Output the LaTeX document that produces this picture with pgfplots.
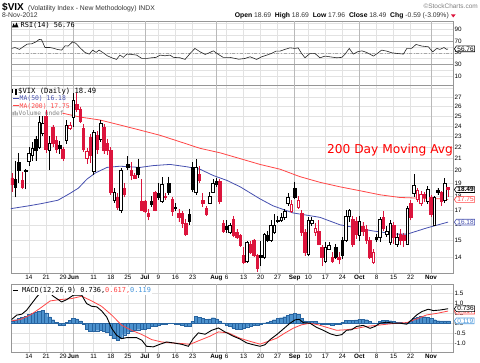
\documentclass[border=0pt]{standalone}
\usepackage{fontspec}
\setmainfont{Liberation Sans}
\newfontfamily\mono{DejaVu Sans Mono}
\newfontfamily\dejavu{DejaVu Sans}
\usepackage{pgfplots}
\pgfplotsset{compat=1.18}
\usepgfplotslibrary{statistics}
\usetikzlibrary{shapes.symbols}
\definecolor{cred}{RGB}{220,20,60}
\definecolor{mablue}{RGB}{70,80,175}
\definecolor{mared}{RGB}{255,70,70}
\definecolor{histf}{RGB}{75,145,205}
\definecolor{histd}{RGB}{40,100,160}
\definecolor{gridc}{RGB}{226,226,226}
\definecolor{gridm}{RGB}{185,185,185}
\definecolor{framec}{RGB}{150,150,150}
\definecolor{lblue}{RGB}{70,150,220}
\pgfplotsset{
  panel/.style={scale only axis, width=442bp, xmin=-5.28, xmax=124.45,
    axis line style={draw=framec}, major tick length=0pt, tick style={draw=none},
    xtick={0,5,10,19,24,29,38,43,48,58,63,68,73,82,87,92,102,107,112},
    extra x ticks={13,34,55,78,97,118},
    grid=major, major grid style={gridc, line width=0.5bp},
    extra x tick style={major grid style={gridm, line width=0.6bp}},
    yticklabel pos=right,
    tick label style={font=\fontsize{6.3bp}{7bp}\selectfont, inner sep=1.5bp},
    clip=true},
  xlab/.style={xticklabels={14,21,29,11,18,25,9,16,23,6,13,20,27,10,17,24,8,15,22},
    extra x tick labels={\textbf{Jun},\textbf{Jul},\textbf{Aug},\textbf{Sep},\textbf{Oct},\textbf{Nov}}},
  cHB/.style={draw=black, fill=white, line width=0.6bp},
  cFB/.style={draw=black, fill=black, line width=0.6bp},
  cHR/.style={draw=cred, fill=white, line width=0.6bp},
  cFR/.style={draw=cred, fill=cred, line width=0.6bp},
}
\newcommand{\cd}[6]{\addplot[#1, boxplot prepared={draw position=#2, lower whisker=#3, lower quartile=#4, median=#4, upper quartile=#5, upper whisker=#6}] coordinates {};}
\begin{document}
\begin{tikzpicture}
\path[use as bounding box] (0,0) rectangle (480bp,363bp);
% ---------------- RSI ----------------
\begin{axis}[panel, at={(11bp,278bp)}, anchor=south west, height=63.5bp,
  ymin=-5, ymax=103.5, ytick={10,20,40,50,60,80,90,100}, yticklabels={10,,,50,,,90,},
  extra y ticks={30,70}, extra y tick labels={30,70},
  extra y tick style={major grid style={gray!75, line width=0.7bp}},
  xticklabels={}, extra x tick labels={}]
\addplot[gray!70, dash dot, line width=0.6bp] coordinates {(-5.28,50) (124.45,50)};
\addplot[black!85, line width=0.6bp] coordinates {(-5.1,57.5) (-4.1,59) (-2.8,55.8) (-1.7,60.3) (-0.5,64.9) (0.8,65.4) (2.1,68.8) (3.0,72.9) (3.7,72.3) (4.7,59) (6.2,59) (7.4,57.5) (8.3,55.8) (9.6,54.6) (10.6,62) (11.5,61.5) (12.8,68.8) (13.8,66) (15,58.5) (16.4,50.7) (17.7,47.8) (18.7,54.6) (19.7,50.7) (20.6,54.6) (21.8,50) (23,44.9) (24.3,41.5) (25.7,38.7) (26.7,46.1) (27.7,42.2) (28.7,47.8) (30.1,47.2) (31.6,46.1) (33.1,40.4) (34.5,40.4) (36,41.5) (37.3,42.2) (38.5,46.1) (39.9,44.9) (41.4,46.1) (42.4,42.2) (44.3,41.5) (45.8,38.7) (47.3,49) (48.7,57.5) (50.2,51.7) (51.7,47.2) (52.9,50) (54.1,53.4) (55.6,47.2) (57,42.2) (59,42.2) (61.6,39) (63.4,40.4) (64.9,43.2) (66.8,38.7) (68.3,43.2) (69.8,46.1) (71.2,49) (72.5,52.9) (73.7,52.9) (75.1,55.8) (76.6,58.5) (78.1,57.5) (79,58.5) (80,49) (81,41.5) (82.5,49) (83.9,49) (85.4,41.5) (86.9,44.4) (88.3,43.2) (90.3,41.5) (91.8,42.2) (92.7,47.2) (94,57.5) (95.2,47.8) (96.4,51.7) (97.7,53.4) (99.1,50.7) (101.1,44.4) (102.5,50) (103.5,54.6) (105,52.9) (106.5,50) (107.9,49) (109.9,47.8) (110.9,57.5) (112.3,57.5) (113.6,64.3) (115.3,61.5) (117.2,60.3) (118.5,51.7) (119.7,57.5) (120.6,55.8) (121.8,59) (122.6,55.8) (123,56.76)};
\coordinate (rsiv) at (axis cs:124.45,56.76);
\end{axis}
% ---------------- MAIN ----------------
\begin{axis}[panel, xlab, at={(11bp,90bp)}, anchor=south west, height=188bp,
  ymode=log, ymin=13.13, ymax=28.4,
  ytick={14,15,16,17,18,19,20,21,22,23,24,25,26,27,28},
  yticklabels={14,15,16,17,18,19,20,21,22,23,24,25,26,27,},
  boxplot/box extend=0.75, boxplot/whisker extend=0, boxplot/draw direction=y]
\addplot[mablue, line width=0.8bp] coordinates {(-5.3,17.1) (0,17.3) (3.5,17.45) (8.5,17.7) (12,18.2) (14.5,18.6) (17,19.3) (19.5,19.8) (22.9,20.25) (26.7,20.35) (32.6,20.25) (36.4,20.4) (41.4,20.5) (46.4,20.3) (50.2,20.1) (54,19.6) (58.1,19.2) (62,18.7) (67.8,17.8) (71.6,17.3) (77.5,16.8) (85.4,16.5) (91.3,16.0) (101,15.6) (108,15.4) (111,15.4) (116.8,15.8) (123,16.18)};
\addplot[mared, line width=0.8bp] coordinates {(9.8,25.3) (15,24.9) (20.8,24.6) (26.7,24.1) (32.6,23.6) (38.5,23.1) (44.3,22.5) (50.2,21.9) (56.1,21.5) (61.9,21.0) (67.8,20.5) (73.7,20.1) (79.5,19.5) (85.4,19.05) (91.3,18.7) (97.2,18.4) (103,18.1) (108.9,17.9) (114.8,17.85) (120.6,17.8) (123,17.75)};
\cd{cFR}{-5}{18.3}{18.9}{19.4}{19.8}
\cd{cFB}{-4}{17.9}{18.7}{19.3}{20.8}
\cd{cFB}{-3}{19.0}{20.0}{20.7}{21.5}
\cd{cFR}{-2}{18.5}{18.7}{19.2}{19.9}
\cd{cFB}{-1}{18.5}{19.9}{20.0}{20.1}
\cd{cHB}{0}{20.4}{20.8}{21.5}{22.0}
\cd{cHB}{1}{20.8}{21.3}{21.9}{22.5}
\cd{cFB}{2}{20.8}{21.7}{22.7}{23.0}
\cd{cHB}{3}{21.8}{22.0}{24.4}{25.0}
\cd{cHB}{4}{23.0}{23.3}{24.3}{25.0}
\cd{cFR}{5}{21.5}{21.8}{25.0}{25.6}
\cd{cHB}{6}{20.0}{21.7}{22.4}{23.0}
\cd{cFR}{7}{22.0}{22.4}{23.9}{24.1}
\cd{cFR}{8}{21.5}{21.8}{22.6}{23.0}
\cd{cFB}{9}{21.4}{21.9}{22.2}{22.6}
\cd{cFR}{10}{20.8}{21.0}{21.8}{22.0}
\cd{cHB}{11}{22.3}{22.6}{24.1}{24.6}
\cd{cHR}{12}{23.6}{23.8}{24.1}{24.4}
\cd{cHB}{13}{23.9}{24.9}{26.7}{27.5}
\cd{cFR}{14}{25.4}{25.7}{26.2}{27.5}
\cd{cFR}{15}{24.3}{24.5}{25.7}{26.0}
\cd{cFR}{16}{21.6}{21.8}{23.8}{24.2}
\cd{cHR}{17}{20.5}{21.0}{21.6}{21.9}
\cd{cFR}{18}{20.6}{21.3}{22.9}{23.2}
\cd{cHB}{19}{19.6}{19.9}{23.4}{23.6}
\cd{cFR}{20}{21.4}{21.8}{23.1}{23.5}
\cd{cHB}{21}{22.5}{22.7}{24.3}{24.6}
\cd{cFR}{22}{21.4}{21.7}{23.9}{24.2}
\cd{cFR}{23}{21.3}{21.7}{22.4}{22.8}
\cd{cFR}{24}{18.1}{18.3}{21.7}{22.0}
\cd{cHB}{25}{17.5}{17.7}{18.3}{18.6}
\cd{cFR}{26}{17.0}{17.2}{17.9}{18.2}
\cd{cHB}{27}{16.8}{17.0}{20.0}{20.2}
\cd{cFR}{28}{17.9}{18.1}{18.6}{19.0}
\cd{cFB}{29}{20.0}{20.3}{20.5}{21.2}
\cd{cFR}{30}{19.2}{19.6}{20.0}{20.7}
\cd{cFR}{31}{19.3}{19.4}{19.6}{19.8}
\cd{cFB}{32}{19.4}{19.7}{20.3}{21.0}
\cd{cFR}{33}{16.9}{17.0}{17.6}{19.3}
\cd{cFR}{34}{16.8}{16.9}{17.6}{17.7}
\cd{cFR}{35}{16.3}{16.6}{16.8}{17.1}
\cd{cFB}{36}{17.2}{17.4}{17.6}{18.0}
\cd{cFR}{37}{16.9}{17.0}{18.3}{18.4}
\cd{cFB}{38}{17.7}{17.9}{18.2}{19.0}
\cd{cHB}{39}{17.5}{17.6}{18.9}{19.5}
\cd{cFR}{40}{17.7}{17.9}{18.0}{18.2}
\cd{cFB}{41}{18.1}{18.3}{19.0}{19.5}
\cd{cFR}{42}{16.6}{16.9}{17.8}{17.9}
\cd{cFB}{43}{16.9}{17.1}{17.2}{17.5}
\cd{cFR}{44}{16.2}{16.5}{16.8}{17.1}
\cd{cFR}{45}{15.8}{16.1}{16.8}{16.9}
\cd{cFR}{46}{15.3}{15.4}{16.1}{16.4}
\cd{cFB}{47}{16.0}{16.2}{16.7}{17.1}
\cd{cFB}{48}{18.3}{18.5}{20.3}{20.7}
\cd{cHB}{49}{18.1}{18.3}{20.3}{21.0}
\cd{cFR}{50}{19.0}{19.2}{19.7}{20.4}
\cd{cFR}{51}{17.2}{17.5}{17.7}{18.2}
\cd{cFR}{52}{16.6}{16.7}{17.1}{17.3}
\cd{cHB}{53}{17.4}{17.5}{18.0}{18.3}
\cd{cHB}{54}{18.2}{18.3}{19.0}{19.3}
\cd{cFB}{55}{18.7}{18.9}{19.1}{19.4}
\cd{cFR}{56}{17.4}{17.6}{19.1}{19.3}
\cd{cFR}{57}{15.5}{15.6}{16.1}{16.3}
\cd{cFB}{58}{15.5}{15.7}{15.9}{16.3}
\cd{cHB}{59}{15.4}{15.5}{16.0}{16.1}
\cd{cFR}{60}{15.2}{15.3}{16.4}{16.6}
\cd{cFR}{61}{15.1}{15.2}{15.5}{15.7}
\cd{cFR}{62}{14.6}{14.7}{15.3}{15.4}
\cd{cFR}{63}{13.6}{13.7}{14.1}{14.6}
\cd{cHB}{64}{13.7}{13.8}{14.9}{15.0}
\cd{cFR}{65}{14.2}{14.3}{14.8}{15.0}
\cd{cFR}{66}{14.0}{14.1}{15.0}{15.1}
\cd{cFR}{67}{13.2}{13.4}{14.1}{14.2}
\cd{cFB}{68}{13.5}{14.0}{14.1}{15.0}
\cd{cHB}{69}{13.9}{14.0}{15.4}{15.5}
\cd{cFB}{70}{14.9}{15.0}{15.3}{15.6}
\cd{cHB}{71}{14.9}{15.0}{16.0}{16.3}
\cd{cHB}{72}{15.4}{15.5}{16.0}{16.7}
\cd{cHB}{73}{16.1}{16.2}{16.3}{16.6}
\cd{cHB}{74}{16.2}{16.3}{16.5}{16.8}
\cd{cHB}{75}{16.3}{16.5}{16.9}{17.1}
\cd{cHB}{76}{17.3}{17.5}{17.9}{18.2}
\cd{cHR}{77}{16.8}{16.9}{17.4}{17.7}
\cd{cFB}{78}{17.8}{17.9}{18.6}{19.1}
\cd{cHR}{79}{17.1}{17.2}{17.7}{18.0}
\cd{cFR}{80}{15.3}{15.5}{16.8}{17.0}
\cd{cFR}{81}{14.1}{14.3}{15.5}{15.7}
\cd{cHB}{82}{14.1}{14.2}{16.3}{16.5}
\cd{cHB}{83}{15.9}{16.1}{16.3}{16.5}
\cd{cHR}{84}{15.3}{15.5}{15.8}{16.1}
\cd{cFR}{85}{14.7}{14.8}{15.6}{16.3}
\cd{cFR}{86}{13.5}{14.0}{14.6}{14.7}
\cd{cHB}{87}{13.7}{13.8}{14.6}{14.9}
\cd{cHB}{88}{14.4}{14.5}{14.7}{14.9}
\cd{cFR}{89}{13.7}{13.8}{14.0}{14.3}
\cd{cFB}{90}{13.9}{14.0}{14.6}{14.8}
\cd{cFR}{91}{13.6}{13.9}{14.0}{14.3}
\cd{cFB}{92}{13.9}{14.1}{15.0}{15.2}
\cd{cHB}{93}{14.9}{15.0}{16.6}{17.0}
\cd{cHB}{94}{16.2}{16.6}{17.0}{17.1}
\cd{cFR}{95}{14.6}{14.8}{16.4}{16.6}
\cd{cFR}{96}{15.1}{15.4}{16.2}{16.5}
\cd{cHB}{97}{15.0}{15.3}{16.2}{16.6}
\cd{cFR}{98}{15.3}{15.6}{15.9}{16.2}
\cd{cFR}{99}{14.8}{15.0}{15.7}{16.0}
\cd{cFR}{100}{13.9}{14.0}{15.0}{15.2}
\cd{cHR}{101}{13.6}{13.7}{14.3}{14.5}
\cd{cFB}{102}{14.9}{15.1}{15.2}{15.4}
\cd{cHB}{103}{14.9}{15.2}{16.4}{16.5}
\cd{cFR}{104}{15.6}{15.8}{16.5}{16.9}
\cd{cHB}{105}{15.2}{15.4}{15.6}{15.9}
\cd{cHB}{106}{14.7}{14.9}{16.1}{16.3}
\cd{cFR}{107}{14.8}{15.2}{16.0}{16.2}
\cd{cHB}{108}{14.6}{14.8}{15.2}{15.5}
\cd{cFR}{109}{14.7}{15.0}{15.4}{15.7}
\cd{cFR}{110}{14.6}{15.0}{15.3}{15.5}
\cd{cHB}{111}{14.7}{14.8}{17.1}{17.3}
\cd{cFR}{112}{16.3}{16.5}{17.5}{17.7}
\cd{cHB}{113}{17.9}{18.2}{18.8}{19.7}
\cd{cHR}{114}{17.6}{17.8}{18.4}{18.6}
\cd{cHR}{115}{17.3}{17.5}{18.1}{18.4}
\cd{cFR}{116}{17.6}{17.9}{18.1}{18.3}
\cd{cHB}{117}{17.4}{17.6}{18.5}{18.8}
\cd{cFR}{118}{16.5}{16.7}{17.9}{18.1}
\cd{cHB}{119}{15.9}{16.0}{17.9}{18.0}
\cd{cFB}{120}{18.1}{18.3}{18.4}{18.6}
\cd{cFR}{121}{17.3}{17.6}{18.3}{18.4}
\cd{cHB}{122}{17.5}{17.7}{19.0}{19.4}
\cd{cFR}{123}{17.96}{18.49}{18.69}{18.69}
\coordinate (vclose) at (axis cs:124.45,18.49);
\coordinate (vma200) at (axis cs:124.45,17.75);
\coordinate (vma50) at (axis cs:124.45,16.18);
\end{axis}
% ---------------- MACD ----------------
\begin{axis}[panel, xlab, at={(11bp,11bp)}, anchor=south west, height=68bp,
  ymin=-1.46, ymax=1.99, ytick={-1,-0.5,0,0.5,1,1.5},
  yticklabels={-1.0,-0.5,0.0,0.5,1.0,1.5}]
\addplot[ybar, bar width=1, fill=histf, draw=histd, line width=0.3bp] coordinates {
(-5,0.12) (-4,0.18) (-3,0.24) (-2,0.30) (-1,0.36) (0,0.45) (1,0.50) (2,0.55) (3,0.60) (4,0.66)
(5,0.52) (6,0.32) (7,0.18) (8,0.04) (9,-0.10) (10,-0.12) (11,0.05) (12,0.16) (13,0.24) (14,0.22)
(15,0.12) (16,-0.05) (17,-0.32) (18,-0.40) (19,-0.42) (20,-0.38) (21,-0.36) (22,-0.40) (23,-0.46) (24,-0.62)
(25,-0.78) (26,-0.84) (27,-0.76) (28,-0.58) (29,-0.48) (30,-0.40) (31,-0.36) (32,-0.33) (33,-0.32) (34,-0.29)
(35,-0.26) (36,-0.17) (37,-0.14) (38,-0.10) (39,-0.06) (40,-0.03) (41,-0.01) (42,-0.02) (43,-0.03) (44,-0.05)
(45,-0.08) (46,-0.13) (47,-0.15) (48,0.10) (49,0.34) (50,0.30) (51,0.24) (52,0.20) (53,0.22) (54,0.28)
(55,0.22) (56,0.12) (57,0.02) (58,-0.08) (59,-0.16) (60,-0.24) (61,-0.30) (62,-0.30) (63,-0.26) (64,-0.20)
(65,-0.14) (66,-0.10) (67,-0.08) (68,-0.04) (69,0.02) (70,0.06) (71,0.12) (72,0.18) (73,0.24) (74,0.28)
(75,0.33) (76,0.40) (77,0.46) (78,0.50) (79,0.44) (80,0.24) (81,0.12) (82,0.10) (83,0.10) (84,0.08)
(85,0.02) (86,-0.04) (87,-0.06) (88,-0.07) (89,-0.08) (90,-0.07) (91,-0.04) (92,0.04) (93,0.14) (94,0.16)
(95,0.15) (96,0.17) (97,0.20) (98,0.20) (99,0.18) (100,0.08) (101,0.02) (102,0.00) (103,0.08) (104,0.14)
(105,0.15) (106,0.13) (107,0.10) (108,0.06) (109,0.03) (110,0.00) (111,0.06) (112,0.12) (113,0.24) (114,0.30)
(115,0.34) (116,0.33) (117,0.30) (118,0.24) (119,0.18) (120,0.13) (121,0.12) (122,0.12) (123,0.119)};
\addplot[mared, line width=0.8bp] coordinates {(-5.1,0.12) (-2.6,0.19) (0.3,0.41) (3.2,0.75) (6.2,1.13) (9.1,1.2) (12.5,1.25) (15.5,1.37) (18.4,1.13) (21.3,0.86) (24.3,0.41) (27.2,-0.1) (30.1,-0.36) (33.1,-0.57) (36,-0.83) (38.9,-0.95) (41.9,-1.0) (44.8,-1.03) (47.3,-1.07) (50.2,-0.86) (53.1,-0.66) (55.6,-0.44) (58.5,-0.49) (61.9,-0.76) (64.9,-0.92) (67.8,-1.06) (70.2,-0.92) (72.7,-0.76) (75.1,-0.5) (77.6,-0.25) (80,-0.08) (82.5,0.0) (84.9,-0.08) (87.4,-0.21) (90.3,-0.36) (93.2,-0.33) (96.2,-0.26) (99.1,-0.16) (102,-0.11) (105,-0.05) (107.9,0.0) (110.9,0.03) (113.8,0.22) (116.7,0.42) (119.7,0.5) (123,0.617)};
\addplot[black, line width=0.9bp] coordinates {(-5.1,0.19) (-3.6,0.41) (-2.1,0.46) (-0.7,0.66) (0.8,1.0) (2.3,1.34) (3.7,1.59) (5.2,1.72) (7.1,1.37) (9.6,1.08) (11.1,1.2) (13,1.42) (15.5,1.42) (16.9,1.0) (18.4,0.86) (19.9,0.83) (21.3,0.63) (22.8,0.32) (24.3,-0.27) (25.7,-0.61) (27.2,-0.78) (28.7,-0.73) (31.6,-0.73) (33.1,-0.86) (34.5,-1.17) (36.5,-1.2) (38.4,-1.07) (40.4,-0.95) (42.4,-1.0) (44.8,-1.07) (46.8,-1.17) (48.2,-0.78) (49.7,-0.49) (51.7,-0.56) (53.6,-0.36) (55.6,-0.24) (57.5,-0.44) (60,-0.66) (61.9,-0.8) (63.9,-1.0) (65.8,-1.09) (67.8,-1.17) (69.3,-1.09) (70.7,-0.84) (72.7,-0.58) (74.6,-0.3) (76.6,0.0) (78.1,0.17) (79.3,0.2) (80.5,0.03) (82.5,0.0) (84.4,-0.21) (86.4,-0.36) (88.3,-0.53) (90.3,-0.63) (91.8,-0.58) (93.2,-0.36) (94.7,-0.33) (96.2,-0.16) (98.1,-0.11) (100.1,-0.26) (101.6,-0.16) (103,0.0) (105,0.05) (106.9,0.0) (108.9,0.0) (110.9,-0.05) (112.3,0.17) (113.8,0.42) (115.3,0.59) (117.2,0.71) (118.7,0.64) (120.6,0.67) (122.1,0.71) (123,0.736)};
\coordinate (vmacd) at (axis cs:124.45,0.736);
\coordinate (vsig) at (axis cs:124.45,0.617);
\coordinate (vhist) at (axis cs:124.45,0.119);
\end{axis}
% ---------------- header texts ----------------
\node[anchor=base west, inner sep=0, font=\bfseries\fontsize{10bp}{11bp}\selectfont] at (2bp,352bp) {\$VIX};
\node[anchor=base west, inner sep=0, font=\fontsize{6.8bp}{8bp}\selectfont, text=black!80] at (28bp,352.5bp) {(Volatility Index - New Methodology) INDX};
\node[anchor=base east, inner sep=0, font=\fontsize{6.5bp}{8bp}\selectfont, text=gray] at (478bp,354bp) {\textcopyright StockCharts.com};
\node[anchor=base west, inner sep=0, font=\fontsize{6.8bp}{8bp}\selectfont, text=black!80] at (2bp,345bp) {8-Nov-2012};
\node[anchor=base east, inner sep=0, font=\fontsize{6.8bp}{8bp}\selectfont, text=black!80] at (449bp,345bp) {{\bfseries\color{black}Open} 18.69 \ {\bfseries\color{black}High} 18.69 \ {\bfseries\color{black}Low} 17.96 \ {\bfseries\color{black}Close} 18.49 \ {\bfseries\color{black}Chg} -0.59 (-3.09\%)};
\fill[cred] (451bp,348.5bp) -- (455.5bp,348.5bp) -- (453.25bp,345.5bp) -- cycle;
% RSI legend
\fill[black] (12bp,335.5bp) -- (13.5bp,339.5bp) -- (15bp,337bp) -- (16.5bp,340.5bp) -- (18.5bp,335.5bp) -- cycle;
\node[anchor=west, inner sep=0, font=\mono\fontsize{6.9bp}{8bp}\selectfont] at (20.5bp,338bp) {RSI(14) 56.76};
% main legend
\fill[black] (12bp,269.5bp) rectangle (13.3bp,273.5bp);
\draw[black, line width=0.5bp] (15bp,268.5bp) rectangle (16.3bp,274bp);
\node[anchor=west, inner sep=0, font=\mono\fontsize{7.2bp}{8bp}\selectfont] at (18bp,272bp) {\$VIX (Daily) 18.49};
\draw[mablue, line width=1bp] (13bp,264.5bp) -- (19bp,264.5bp);
\node[anchor=west, inner sep=0, font=\mono\fontsize{6.4bp}{8bp}\selectfont, text=mablue] at (19.5bp,264.5bp) {MA(50) 16.18};
\draw[mared, line width=1bp] (13bp,257bp) -- (19bp,257bp);
\node[anchor=west, inner sep=0, font=\mono\fontsize{6.4bp}{8bp}\selectfont, text=mared] at (19.5bp,257bp) {MA(200) 17.75};
\fill[gray] (12.5bp,247.5bp) rectangle (13.5bp,251bp) (14.5bp,247.5bp) rectangle (15.5bp,252bp) (16.5bp,247.5bp) rectangle (17.5bp,250.5bp);
\node[anchor=west, inner sep=0, font=\mono\fontsize{6.2bp}{8bp}\selectfont, text=gray] at (18.5bp,249.7bp) {Volume undef};
% annotation
\node[anchor=base west, inner sep=0, font=\dejavu\fontsize{12.2bp}{14bp}\selectfont, text=red] at (327bp,209bp) {200 Day Moving Avg};
% MACD legend
\node[anchor=west, inner sep=0.8bp, fill=white, font=\mono\fontsize{6.9bp}{8bp}\selectfont] at (12bp,72.3bp) {\textcolor{black}{\rule[0.25em]{5bp}{0.9bp}} MACD(12,26,9) 0.736,\textcolor{mared}{ 0.617,}\textcolor{lblue}{ 0.119}};
% value boxes
\tikzset{vbox/.style={signal, signal to=west, signal pointer angle=110, draw=#1, fill=white, line width=0.6bp, inner xsep=1bp, inner ysep=0.6bp, anchor=west, font=\fontsize{6.5bp}{7bp}\selectfont}}
\node[vbox=black, text=black] at ([xshift=1bp]rsiv) {56.76};
\node[vbox=black, text=black] at ([xshift=1bp]vclose) {\textbf{18.49}};
\node[vbox=mared, text=mared] at ([xshift=1bp]vma200) {17.75};
\node[vbox=mablue, text=mablue] at ([xshift=1bp]vma50) {16.18};
\node[vbox=mared, text=mared] at ([xshift=1bp]vsig) {0.617};
\node[vbox=black, text=black] at ([xshift=1bp]vmacd) {0.736};
\node[vbox=lblue, text=lblue] at ([xshift=1bp]vhist) {0.119};
\end{tikzpicture}
\end{document}
